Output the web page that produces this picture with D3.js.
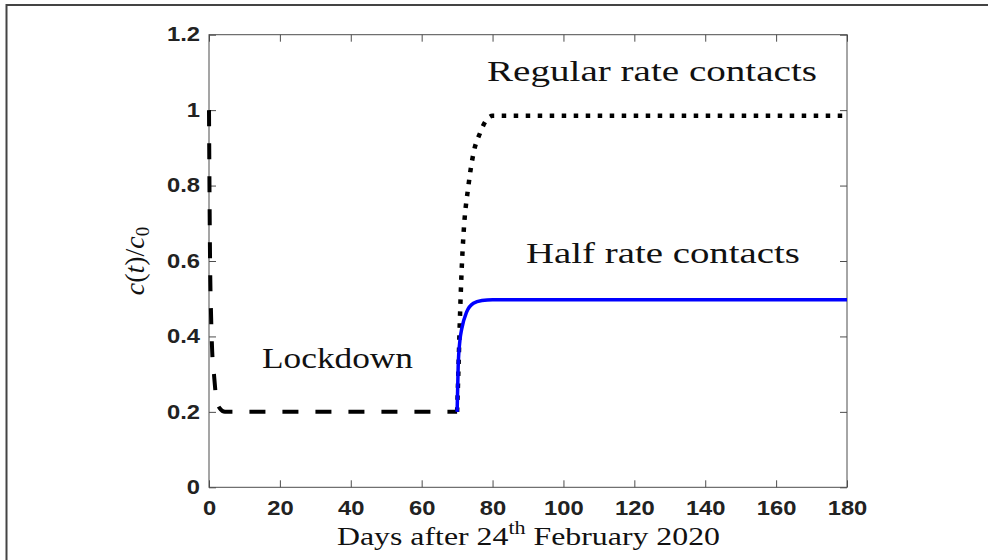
<!DOCTYPE html>
<html>
<head>
<meta charset="utf-8">
<script src="https://cdn.jsdelivr.net/npm/d3@7"></script>
<style>
  body { margin: 0; background: #fff; }
  svg { display: block; }
</style>
</head>
<body>
<div id="chart"></div>
<script>
//Datos
const xTicks = [0, 20, 40, 60, 80, 100, 120, 140, 160, 180];
const yTicks = [0, 0.2, 0.4, 0.6, 0.8, 1, 1.2];

const lockDays = [0, 0.3, 0.6, 0.9, 1.4, 2, 3, 4.5, 70];
const lockVals = [1, 0.6, 0.45, 0.36, 0.3, 0.24, 0.21, 0.2, 0.2];

const regularDays = [70, 70.4, 70.8, 71.3, 71.8, 73.2, 74.6, 76.5, 78, 80, 180];
const regularVals = [0.2, 0.32, 0.45, 0.58, 0.67, 0.8, 0.885, 0.94, 0.97, 0.985, 0.985];

const halfDays = [70, 70.3, 70.8, 71.3, 72.7, 74.6, 77, 80, 180];
const halfVals = [0.2, 0.32, 0.39, 0.42, 0.465, 0.488, 0.495, 0.497, 0.497];

const W = 988, H = 560;
const margin = {top: 34.7, left: 209, right: 141, bottom: 72.7};
const width = W - margin.left - margin.right,
      height = H - margin.top - margin.bottom;

const svg = d3.select('#chart').append('svg')
    .attr('width', W).attr('height', H);

//Marco de la imagen
svg.append('line').attr('x1', 6).attr('x2', W).attr('y1', 5).attr('y2', 5)
    .attr('stroke', '#444').attr('stroke-width', 2);
svg.append('line').attr('x1', 6.5).attr('x2', 6.5).attr('y1', 4).attr('y2', H)
    .attr('stroke', '#444').attr('stroke-width', 2);

const g = svg.append('g')
    .attr('transform', 'translate(' + margin.left + ',' + margin.top + ')');

const x = d3.scaleLinear().domain([0, 180]).range([0, width]);
const y = d3.scaleLinear().domain([0, 1.2]).range([height, 0]);

const AXIS_COLOR = '#4d4d4d';
const STRETCH = 1.22;

function styleAxis(sel) {
    sel.select('.domain').remove();
    sel.selectAll('.tick line').attr('stroke', AXIS_COLOR);
    sel.selectAll('text')
        .attr('fill', '#222')
        .attr('font-family', '"Liberation Sans", Arial, sans-serif')
        .attr('font-weight', 'bold')
        .attr('font-size', 19.5)
        .attr('transform', function() {
            let tx = +d3.select(this).attr('x') || 0;
            return 'translate(' + tx + ',0) scale(' + STRETCH + ',1) translate(' + (-tx) + ',0)';
        });
}

//Ejes
g.append('g').attr('transform', 'translate(0,' + height + ')')
    .call(d3.axisBottom(x).tickValues(xTicks).tickSizeInner(-7).tickSizeOuter(0).tickPadding(14))
    .call(styleAxis);
g.append('g')
    .call(d3.axisLeft(y).tickValues(yTicks).tickFormat(d => String(d)).tickSizeInner(-7).tickSizeOuter(0).tickPadding(9))
    .call(styleAxis);
g.append('g')
    .call(d3.axisTop(x).tickValues(xTicks).tickFormat('').tickSizeInner(-7).tickSizeOuter(0))
    .call(styleAxis);
g.append('g').attr('transform', 'translate(' + width + ',0)')
    .call(d3.axisRight(y).tickValues(yTicks).tickFormat('').tickSizeInner(-7).tickSizeOuter(0))
    .call(styleAxis);

g.append('rect')
    .attr('width', width).attr('height', height)
    .attr('fill', 'none').attr('stroke', AXIS_COLOR).attr('stroke-width', 1);

//Curvas
const line = d3.line()
    .x(d => x(d[0]))
    .y(d => y(d[1]))
    .curve(d3.curveMonotoneX);

const zip = (a, b) => a.map((v, i) => [v, b[i]]);

g.append('path').datum(zip(lockDays, lockVals))
    .attr('d', line).attr('fill', 'none')
    .attr('stroke', '#000').attr('stroke-width', 4)
    .attr('stroke-dasharray', '16,17');

g.append('path').datum(zip(regularDays, regularVals))
    .attr('d', line).attr('fill', 'none')
    .attr('stroke', '#000').attr('stroke-width', 4.5)
    .attr('stroke-dasharray', '4.5,7.5');

g.append('path').datum(zip(halfDays, halfVals))
    .attr('d', line).attr('fill', 'none')
    .attr('stroke', '#0000ff').attr('stroke-width', 3.5);

//Textos
const SERIF = '"Liberation Serif", "Times New Roman", serif';

function label(txt, x0, y0, size, len) {
    return svg.append('text')
        .attr('x', x0).attr('y', y0)
        .attr('font-family', SERIF).attr('font-size', size)
        .attr('fill', '#111')
        .attr('textLength', len).attr('lengthAdjust', 'spacingAndGlyphs')
        .text(txt);
}

label('Regular rate contacts', 487, 81, 30, 330);
label('Half rate contacts', 526, 263, 30, 274);
label('Lockdown', 262, 367.5, 30, 151);

//Etiqueta eje X
let xl = svg.append('text')
    .attr('x', 337).attr('y', 545)
    .attr('font-family', SERIF).attr('font-size', 26).attr('fill', '#111')
    .attr('textLength', 383).attr('lengthAdjust', 'spacingAndGlyphs');
xl.append('tspan').text('Days after 24');
xl.append('tspan').attr('font-size', 18).attr('dy', -11).text('th');
xl.append('tspan').attr('dy', 11).text(' February 2020');

//Etiqueta eje Y
let yl = svg.append('text')
    .attr('transform', 'translate(144,' + (margin.top + height / 2) + ') rotate(-90)')
    .attr('text-anchor', 'middle')
    .attr('font-family', SERIF).attr('font-size', 28).attr('fill', '#111');
yl.append('tspan').attr('font-style', 'italic').text('c');
yl.append('tspan').text('(');
yl.append('tspan').attr('font-style', 'italic').text('t');
yl.append('tspan').text(')/');
yl.append('tspan').attr('font-style', 'italic').text('c');
yl.append('tspan').attr('font-size', 19).attr('dy', 5).text('0');
</script>
</body>
</html>
